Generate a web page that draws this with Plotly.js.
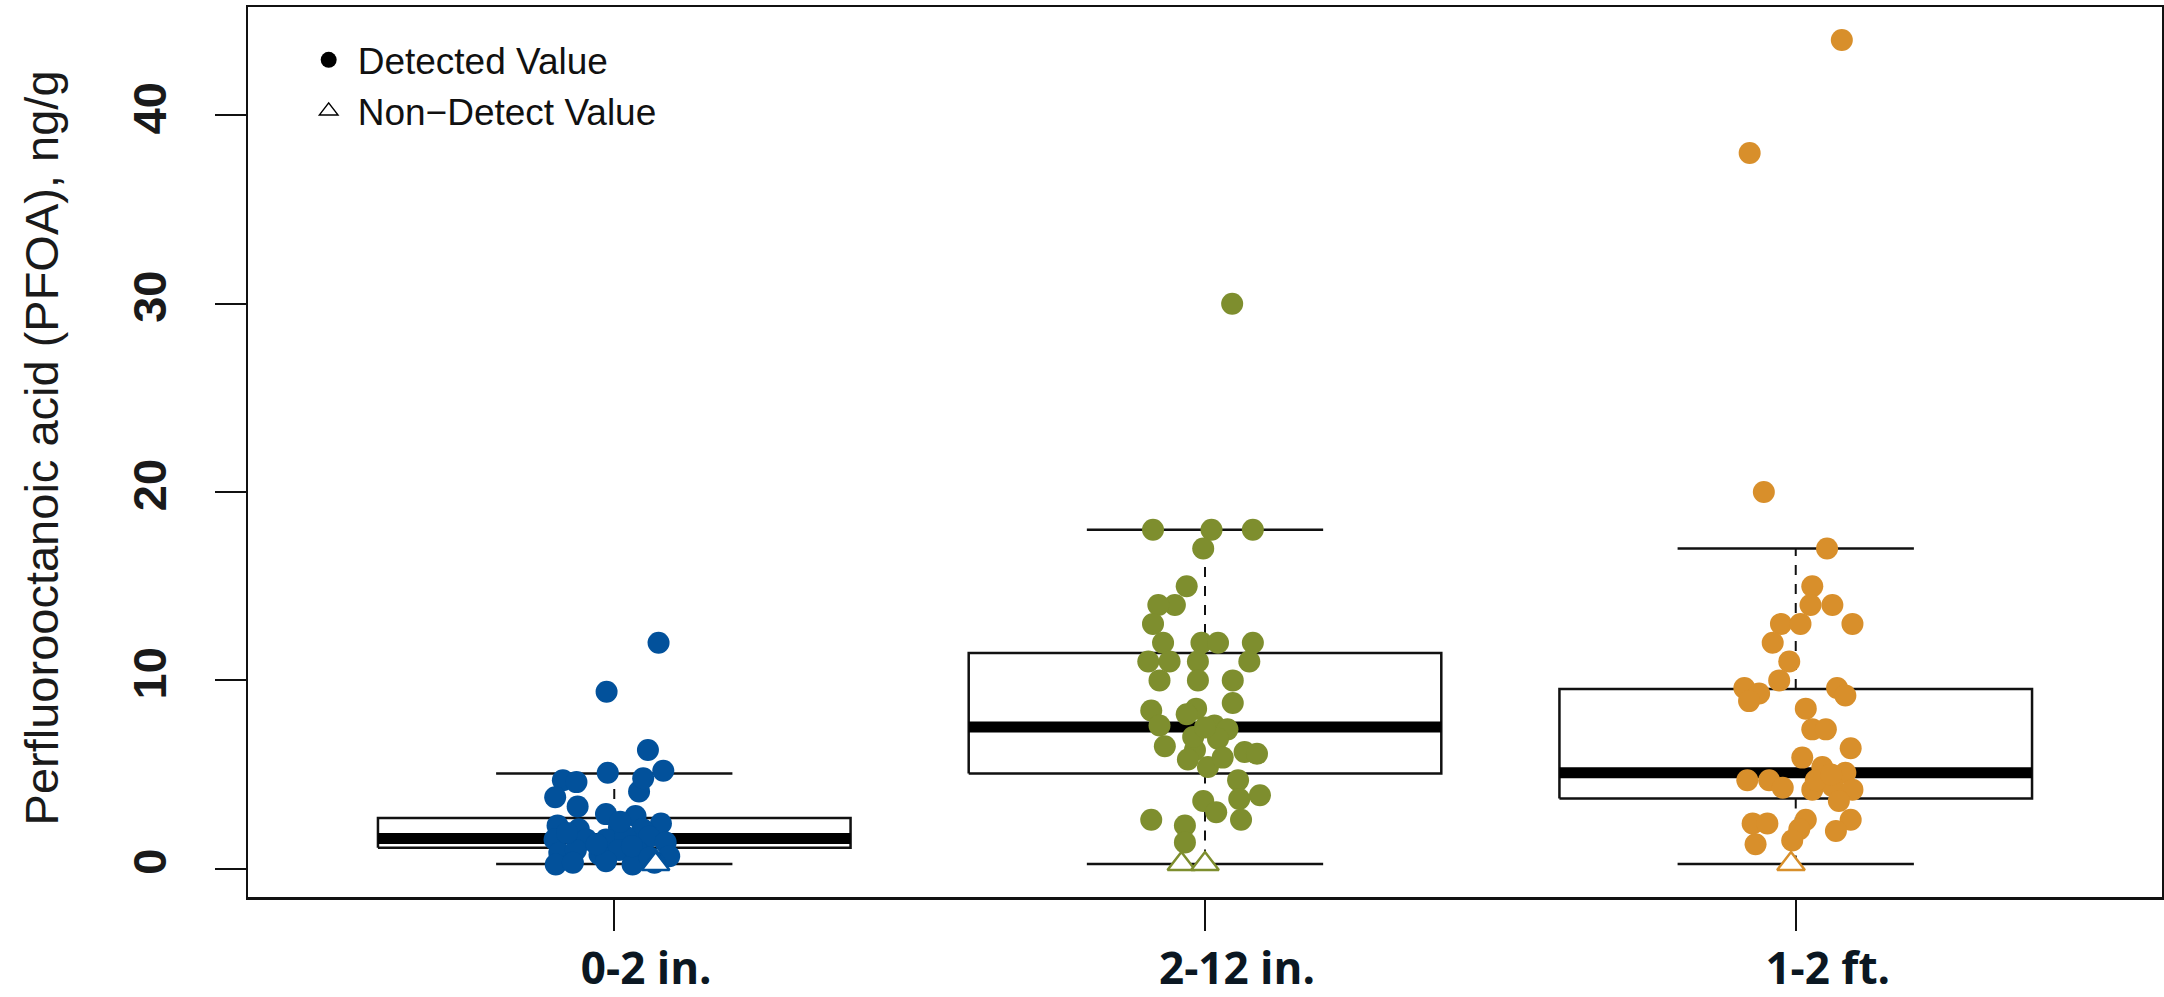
<!DOCTYPE html>
<html><head><meta charset="utf-8">
<script src="https://cdn.plot.ly/plotly-3.0.1.min.js"></script>
<style>html,body{margin:0;padding:0;background:#fff}#chart{width:2164px;height:997px}</style>
</head><body><div id="chart"></div>
<script>
// ---- data ----
const categories = ['0-2 in.', '2-12 in.', '1-2 ft.'];
const yTickValues = [0, 10, 20, 30, 40];

// box-plot statistics (ng/g)
const boxLowerWhisker = [0.25, 0.25, 0.25];
const boxQ1 = [1.11, 5.05, 3.73];
const boxMedian = [1.61, 7.53, 5.09];
const boxQ3 = [2.70, 11.45, 9.54];
const boxUpperWhisker = [5.05, 18.0, 17.0];

// detected values and their horizontal jitter (category units)
const detected_0to2in = [12.0, 9.4, 6.3, 5.2, 5.1, 4.7, 4.6, 3.8, 4.1, 4.8, 3.3, 2.9, 2.4, 2.8, 2.3, 2.1, 2.2, 2.1,
  1.55, 1.55, 1.55, 1.7, 1.7, 1.4, 0.85, 1.0, 0.76, 1.0, 0.85, 0.67, 0.23, 0.32, 0.4, 0.23, 0.32, 1.9, 1.2, 1.3, 2.5, 0.6];
const jitter_0to2in = [0.075, -0.013, 0.057, 0.083, -0.011, -0.087, -0.064, -0.100, 0.042, 0.049, -0.062, -0.014, 0.079, 0.036, -0.096, -0.060, 0.008, 0.048,
  -0.101, -0.047, -0.014, 0.019, 0.059, 0.087, -0.093, -0.065, -0.025, 0.008, 0.042, 0.093, -0.099, -0.070, -0.014, 0.031, 0.068, -0.080, 0.030, -0.030, 0.010, 0.060];

const detected_2to12in = [30, 18, 18, 18, 17, 15, 14, 14, 13, 12, 12, 12, 12, 11, 11, 11, 11, 10, 10, 10,
  8.8, 8.4, 8.5, 8.2, 7.6, 7.6, 7.4, 6.5, 6.3, 6.9, 6.2, 6.1, 5.8, 5.4, 4.7, 3.9, 3.6, 3.0, 2.6, 2.6, 2.3, 1.4, 3.7, 7.0, 5.9, 7.5];
const jitter_2to12in = [0.046, -0.088, 0.011, 0.081, -0.003, -0.031, -0.051, -0.079, -0.088, -0.071, -0.006, 0.022, 0.081, -0.096, -0.060, -0.012, 0.075, -0.077, -0.012, 0.047,
  0.047, -0.091, -0.015, -0.031, -0.077, 0.016, 0.038, -0.068, -0.017, 0.022, 0.067, 0.088, -0.029, 0.005, 0.056, 0.093, -0.003, 0.019, 0.061, -0.091, -0.034, -0.034, 0.058, -0.020, 0.030, 0.000];

const detected_1to2ft = [44, 38, 20, 17, 15, 14, 14, 13, 13, 13, 12, 11, 10, 9.6, 9.3, 8.9, 9.6, 9.2, 8.5, 7.4, 7.4,
  6.4, 5.9, 5.4, 5.1, 4.7, 4.7, 4.3, 4.2, 4.4, 4.2, 3.6, 2.6, 2.0, 2.4, 2.4, 1.3, 2.6, 2.1, 1.5, 4.7, 5.0];
const jitter_1to2ft = [0.078, -0.078, -0.054, 0.053, 0.028, 0.025, 0.062, 0.096, -0.025, 0.008, -0.039, -0.011, -0.028, -0.087, -0.062, -0.079, 0.070, 0.084, 0.017, 0.028, 0.051,
  0.093, 0.011, 0.045, 0.084, -0.082, -0.045, -0.022, 0.028, 0.062, 0.096, 0.073, 0.093, 0.068, -0.073, -0.048, -0.068, 0.017, 0.006, -0.006, 0.034, 0.060];

// non-detect values (plotted at reporting limit) and jitter
const nonDetect_0to2in = [0.25];
const ndJitter_0to2in = [0.070];
const nonDetect_2to12in = [0.25, 0.25];
const ndJitter_2to12in = [-0.040, 0.000];
const nonDetect_1to2ft = [0.25];
const ndJitter_1to2ft = [-0.008];

// ---- styling ----
const groupColors = ['#02519b', '#7e8e2e', '#d88f2b'];
const BOX_HALF = 0.4, STAPLE_HALF = 0.2;
const LINE = '#111111';

const detected = [detected_0to2in, detected_2to12in, detected_1to2ft];
const jitters = [jitter_0to2in, jitter_2to12in, jitter_1to2ft];
const nds = [nonDetect_0to2in, nonDetect_2to12in, nonDetect_1to2ft];
const ndJ = [ndJitter_0to2in, ndJitter_2to12in, ndJitter_1to2ft];

const traces = [];
categories.forEach((c, i) => {
  const p = i + 1;
  traces.push({type: 'scatter', mode: 'lines', showlegend: false, hoverinfo: 'skip',
    x: [p - BOX_HALF, p + BOX_HALF, p + BOX_HALF, p - BOX_HALF, p - BOX_HALF],
    y: [boxQ1[i], boxQ1[i], boxQ3[i], boxQ3[i], boxQ1[i]],
    fill: 'toself', fillcolor: '#ffffff', line: {color: LINE, width: 2.5}});
  traces.push({type: 'scatter', mode: 'lines', showlegend: false, hoverinfo: 'skip',
    x: [p, p, null, p, p], y: [boxQ3[i], boxUpperWhisker[i], null, boxQ1[i], boxLowerWhisker[i]],
    line: {color: LINE, width: 2, dash: '10px,9px'}});
  traces.push({type: 'scatter', mode: 'lines', showlegend: false, hoverinfo: 'skip',
    x: [p - STAPLE_HALF, p + STAPLE_HALF, null, p - STAPLE_HALF, p + STAPLE_HALF],
    y: [boxUpperWhisker[i], boxUpperWhisker[i], null, boxLowerWhisker[i], boxLowerWhisker[i]],
    line: {color: LINE, width: 2.5}});
  traces.push({type: 'scatter', mode: 'lines', showlegend: false, hoverinfo: 'skip',
    x: [p - BOX_HALF, p + BOX_HALF], y: [boxMedian[i], boxMedian[i]],
    line: {color: '#000000', width: 11}});
});
categories.forEach((c, i) => {
  const p = i + 1;
  traces.push({type: 'scatter', mode: 'markers', showlegend: false, name: c,
    x: detected[i].map((v, k) => p + jitters[i][k]), y: detected[i],
    marker: {symbol: 'circle', size: 22, color: groupColors[i]}});
});
categories.forEach((c, i) => {
  const p = i + 1;
  traces.push({type: 'scatter', mode: 'markers', showlegend: false, name: c,
    x: nds[i].map((v, k) => p + ndJ[i][k]), y: nds[i],
    marker: {symbol: 'triangle-up', size: 24, color: '#ffffff', line: {width: 2.5, color: groupColors[i]}}});
});
traces.push({type: 'scatter', mode: 'markers', name: 'Detected Value', x: [null], y: [null],
  marker: {symbol: 'circle', size: 16, color: '#000'}});
traces.push({type: 'scatter', mode: 'markers', name: 'Non\u2212Detect Value', x: [null], y: [null],
  marker: {symbol: 'triangle-up-open', size: 16, color: '#000', line: {width: 1.5, color: '#000'}}});

const layout = {
  width: 2164, height: 997,
  margin: {l: 248, r: 2, t: 7, b: 100},
  paper_bgcolor: '#fff', plot_bgcolor: '#fff',
  showlegend: true,
  legend: {x: 0.027, y: 0.975, xanchor: 'left', yanchor: 'top', bgcolor: 'rgba(0,0,0,0)', itemwidth: 48,
    font: {family: 'Liberation Sans, Arial, sans-serif', size: 37, color: '#111'}, tracegroupgap: 0},
  xaxis: {range: [0.38, 3.62], tickmode: 'array', tickvals: [1, 2, 3], ticktext: categories,
    showgrid: false, zeroline: false, showline: true, mirror: true, linecolor: LINE, linewidth: 2.5,
    ticks: 'outside', ticklen: 31, tickwidth: 2, tickcolor: LINE, ticklabelshift: 32, ticklabelstandoff: 1,
    tickfont: {family: 'Open Sans, sans-serif', size: 44, color: '#0b1722', weight: 'bold'}},
  yaxis: {range: [-1.5, 45.75], tickmode: 'array', tickvals: yTickValues, ticktext: yTickValues.map(String),
    showgrid: false, zeroline: false, showline: true, mirror: true, linecolor: LINE, linewidth: 2.5,
    ticks: 'outside', ticklen: 31, tickwidth: 2, tickcolor: LINE, tickangle: -90, ticklabelstandoff: 30,
    tickfont: {family: 'Liberation Sans, Arial, sans-serif', size: 47, color: '#1a1a1a', weight: 'bold'}},
  annotations: [{text: 'Perfluorooctanoic acid (PFOA), ng/g', textangle: -90, showarrow: false,
    xref: 'paper', yref: 'paper', x: 0, y: 0.504, xanchor: 'center', yanchor: 'middle', xshift: -207,
    font: {family: 'Liberation Sans, Arial, sans-serif', size: 47, color: '#1a1a1a'}}]
};
Plotly.newPlot('chart', traces, layout, {displayModeBar: false, staticPlot: true});
</script></body></html>
